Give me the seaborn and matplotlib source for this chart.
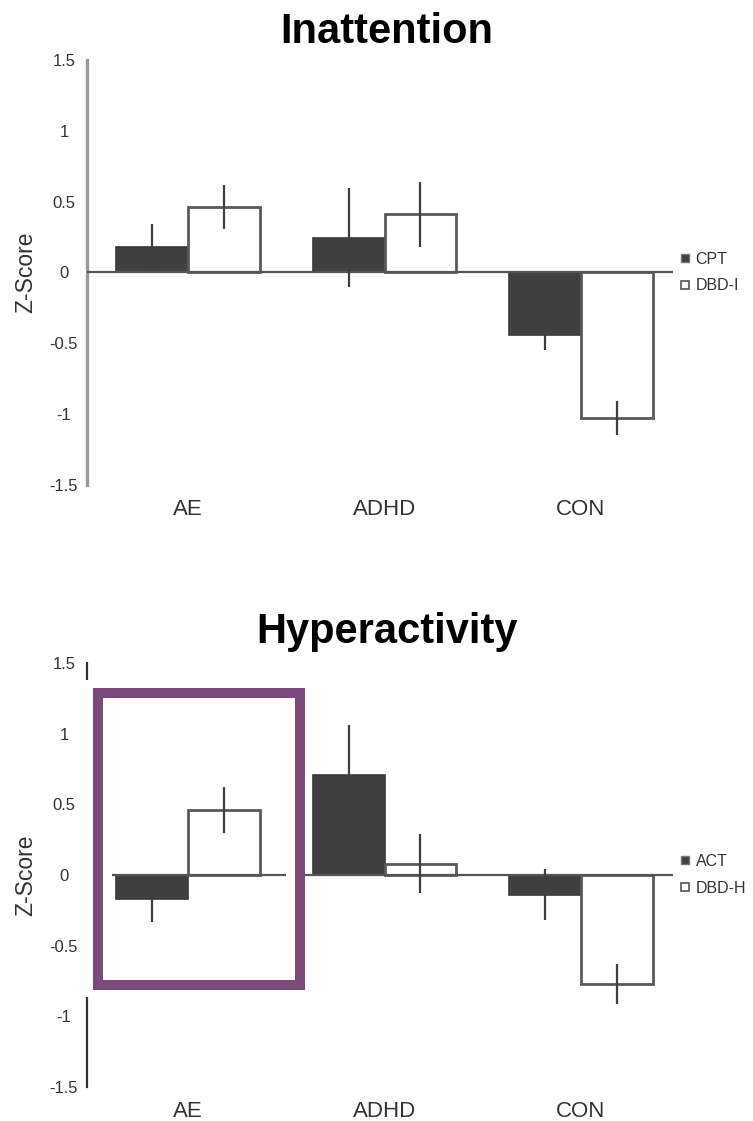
import numpy as np
import pandas as pd
import matplotlib
matplotlib.use("Agg")
import matplotlib.pyplot as plt
from matplotlib.lines import Line2D
from matplotlib.patches import Rectangle
import seaborn as sns

# ---- data -------------------------------------------------------------
groups = ["AE", "ADHD", "CON"]

inatt_measures = ["CPT", "DBD-I"]
inatt_cpt = [0.18, 0.245, -0.44]
inatt_cpt_err = [0.16, 0.35, 0.11]
inatt_dbd = [0.465, 0.41, -1.03]
inatt_dbd_err = [0.155, 0.23, 0.12]

hyper_measures = ["ACT", "DBD-H"]
hyper_act = [-0.17, 0.71, -0.14]
hyper_act_err = [0.16, 0.35, 0.18]
hyper_dbd = [0.46, 0.08, -0.77]
hyper_dbd_err = [0.16, 0.21, 0.14]

y_ticks = [-1.5, -1, -0.5, 0, 0.5, 1, 1.5]
y_tick_labels = ["-1.5", "-1", "-0.5", "0", "0.5", "1", "1.5"]

# ---- style ------------------------------------------------------------
sns.set_theme(style="white")
plt.rcParams["font.family"] = ["Liberation Sans", "DejaVu Sans"]

W, H = 753, 1121
fig = plt.figure(figsize=(W / 100, H / 100), dpi=100)

DARK = "#404040"
TXT = "#333333"
XLIM = (-0.515, 2.47)


def fx(px):
    return px / W


def fy(py):
    return 1 - py / H


def panel(top_px, bottom_px, title, title_base_px, measures, v1, e1, v2, e2,
          spine_color, spine_w):
    ax = fig.add_axes([fx(86.8), fy(bottom_px), fx(673.4 - 86.8),
                       (bottom_px - top_px) / H])
    df = pd.DataFrame({
        "group": groups * 2,
        "measure": [measures[0]] * 3 + [measures[1]] * 3,
        "z": list(v1) + list(v2),
    })
    sns.barplot(data=df, x="group", y="z", hue="measure", order=groups,
                hue_order=measures, palette=[DARK, "white"], width=0.73,
                gap=0, errorbar=None, legend=False, ax=ax, zorder=3)

    bars = ax.patches[:6]
    errs = list(e1) + list(e2)
    vals = list(v1) + list(v2)
    for i, b in enumerate(bars):
        if i < 3:
            b.set_edgecolor("#3a3a3a")
            b.set_linewidth(1.2)
        else:
            b.set_edgecolor("#5a5a5a")
            b.set_linewidth(2.0)
        cx = b.get_x() + b.get_width() / 2
        ax.errorbar(cx, vals[i], yerr=errs[i], fmt="none", ecolor="#3f3f3f",
                    elinewidth=1.6, capsize=0, zorder=5)

    ax.set_xlim(*XLIM)
    ax.set_ylim(-1.5, 1.5)
    ax.set_xlabel("")
    ax.set_ylabel("Z-Score", fontsize=16.5, color=TXT, labelpad=9)
    ax.set_yticks(y_ticks)
    ax.set_yticklabels(y_tick_labels, fontsize=12, color=TXT)
    for lab in ax.get_yticklabels():
        lab.set_horizontalalignment("center")
    ax.tick_params(axis="y", length=3, width=1.2, direction="inout",
                   colors=spine_color, pad=15, labelcolor=TXT)
    ax.tick_params(axis="x", length=0, pad=10, labelsize=16, labelcolor=TXT)

    for s in ["top", "right", "bottom"]:
        ax.spines[s].set_visible(False)
    ax.spines["left"].set_color(spine_color)
    ax.spines["left"].set_linewidth(spine_w)

    handles = [
        Line2D([], [], linestyle="none", marker="s", markersize=6,
               markerfacecolor=DARK, markeredgecolor="#777777",
               markeredgewidth=1.0),
        Line2D([], [], linestyle="none", marker="s", markersize=6,
               markerfacecolor="white", markeredgecolor="#555555",
               markeredgewidth=1.2),
    ]
    ax.legend(handles, measures, loc="center left",
              bbox_to_anchor=(1.012, 0.5), frameon=False, fontsize=11.5,
              handlelength=0.6, handletextpad=0.35, borderpad=0,
              borderaxespad=0, labelspacing=0.75, labelcolor=TXT)

    fig.text(fx(387), fy(title_base_px), title, ha="center", va="baseline",
             fontsize=30, fontweight="bold", color="black")
    return ax


ax1 = panel(60, 485, "Inattention", 43, inatt_measures, inatt_cpt,
            inatt_cpt_err, inatt_dbd, inatt_dbd_err, "#9a9a9a", 2.4)
ax1.axhline(0, color="#555555", linewidth=1.6, zorder=4)

ax2 = panel(663, 1087, "Hyperactivity", 643, hyper_measures, hyper_act,
            hyper_act_err, hyper_dbd, hyper_dbd_err, "#333333", 1.6)

# zero line of the lower panel, split around the highlighted AE group
ax2.hlines(0, -0.387, 0.499, color="#555555", linewidth=1.6, zorder=4)
ax2.hlines(0, 0.59, XLIM[1], color="#555555", linewidth=1.6, zorder=4)

# white gap in the axis line next to the highlight frame
gap = Rectangle((fx(82), fy(997)), fx(93) - fx(82), fy(680) - fy(997),
                transform=fig.transFigure, facecolor="white",
                edgecolor="none", zorder=10)
fig.patches.append(gap)

# highlight frame around the AE group
frame = Rectangle((fx(97.5), fy(985)), fx(299.5) - fx(97.5),
                  fy(693) - fy(985), transform=fig.transFigure,
                  facecolor="none", edgecolor="#7b4a7a", linewidth=7.2,
                  joinstyle="miter", zorder=11)
fig.patches.append(frame)

fig.savefig("out.png", dpi=100)
